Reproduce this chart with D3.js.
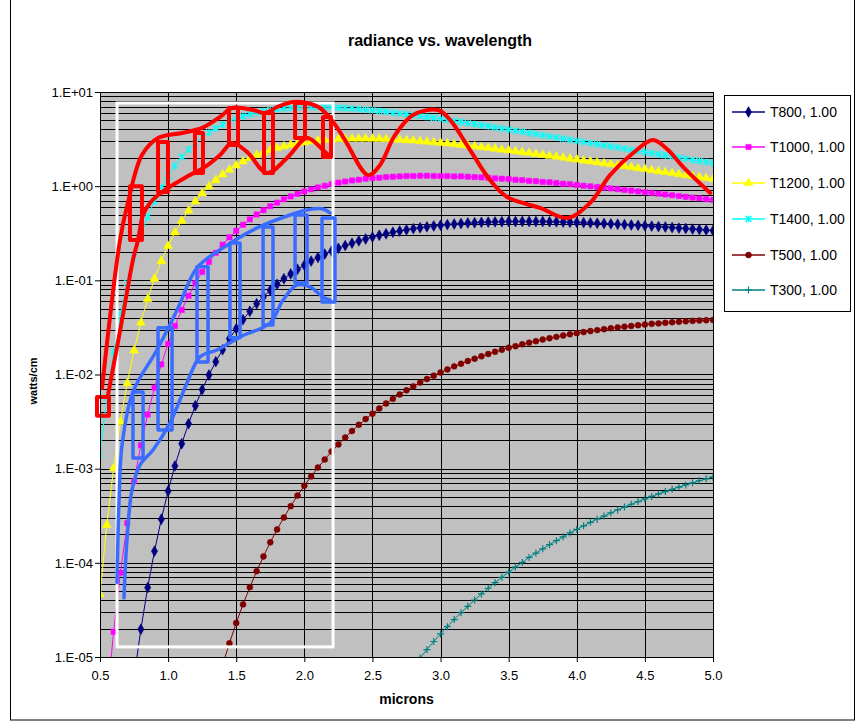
<!DOCTYPE html>
<html>
<head>
<meta charset="utf-8">
<script src="https://cdn.jsdelivr.net/npm/d3@7"></script>
<style>
  body { margin: 0; background: #fff; }
  text { font-family: "Liberation Sans", Arial, sans-serif; }
</style>
</head>
<body>
<svg id="chart" width="857" height="723"></svg>
<script>
// wavelength grid (microns)
const wavelengths = [0.50, 0.55, 0.60, 0.65, 0.70, 0.75, 0.80, 0.85, 0.90, 0.95,
  1.00, 1.05, 1.10, 1.15, 1.20, 1.25, 1.30, 1.35, 1.40, 1.45,
  1.50, 1.55, 1.60, 1.65, 1.70, 1.75, 1.80, 1.85, 1.90, 1.95,
  2.00, 2.05, 2.10, 2.15, 2.20, 2.25, 2.30, 2.35, 2.40, 2.45,
  2.50, 2.55, 2.60, 2.65, 2.70, 2.75, 2.80, 2.85, 2.90, 2.95,
  3.00, 3.05, 3.10, 3.15, 3.20, 3.25, 3.30, 3.35, 3.40, 3.45,
  3.50, 3.55, 3.60, 3.65, 3.70, 3.75, 3.80, 3.85, 3.90, 3.95,
  4.00, 4.05, 4.10, 4.15, 4.20, 4.25, 4.30, 4.35, 4.40, 4.45,
  4.50, 4.55, 4.60, 4.65, 4.70, 4.75, 4.80, 4.85, 4.90, 4.95, 5.00];

// radiance values, each series starts at its own wavelength
const t800 = [6.07e-6, 1.97e-5, 5.46e-5, 1.33e-4, 2.90e-4, 5.79e-4, 1.07e-3, 1.84e-3, 3.00e-3, 4.66e-3,
  6.92e-3, 9.89e-3, 1.37e-2, 1.83e-2, 2.40e-2, 3.06e-2, 3.82e-2, 4.69e-2, 5.65e-2, 6.70e-2,
  7.85e-2, 9.07e-2, 0.104, 0.117, 0.131, 0.145, 0.160, 0.175, 0.190, 0.205,
  0.219, 0.234, 0.248, 0.262, 0.275, 0.288, 0.301, 0.312, 0.324, 0.334,
  0.344, 0.354, 0.362, 0.370, 0.378, 0.385, 0.391, 0.396, 0.401, 0.406,
  0.409, 0.413, 0.415, 0.418, 0.419, 0.421, 0.421, 0.422, 0.422, 0.421,
  0.421, 0.419, 0.418, 0.416, 0.414, 0.412, 0.410, 0.407, 0.404, 0.401,
  0.398, 0.394, 0.391, 0.387, 0.384, 0.380, 0.376, 0.372, 0.368, 0.363,
  0.359, 0.355, 0.350, 0.346, 0.342, 0.337];
const t1000 = [3.24e-6, 1.85e-5, 7.86e-5, 2.64e-4, 7.35e-4, 1.77e-3, 3.76e-3, 7.23e-3, 1.28e-2, 2.11e-2,
  3.28e-2, 4.85e-2, 6.86e-2, 9.33e-2, 0.123, 0.157, 0.196, 0.239, 0.286, 0.336,
  0.389, 0.444, 0.500, 0.556, 0.613, 0.669, 0.724, 0.778, 0.829, 0.879,
  0.926, 0.970, 1.01, 1.05, 1.09, 1.12, 1.15, 1.17, 1.20, 1.22,
  1.23, 1.25, 1.26, 1.27, 1.28, 1.28, 1.29, 1.29, 1.28, 1.28,
  1.28, 1.27, 1.27, 1.26, 1.25, 1.24, 1.23, 1.21, 1.20, 1.19,
  1.17, 1.16, 1.14, 1.13, 1.11, 1.10, 1.08, 1.06, 1.05, 1.03,
  1.01, 0.996, 0.979, 0.962, 0.946, 0.929, 0.912, 0.896, 0.880, 0.864,
  0.848, 0.832, 0.817, 0.801, 0.786, 0.771, 0.756, 0.742, 0.728, 0.714];
const t1200 = [4.61e-5, 2.53e-4, 1.01e-3, 3.14e-3, 8.10e-3, 1.80e-2, 3.54e-2, 6.31e-2, 0.104, 0.160,
  0.232, 0.322, 0.429, 0.551, 0.688, 0.837, 0.995, 1.16, 1.33, 1.50,
  1.66, 1.83, 1.99, 2.14, 2.28, 2.42, 2.54, 2.65, 2.75, 2.84,
  2.92, 2.99, 3.05, 3.09, 3.13, 3.16, 3.18, 3.20, 3.20, 3.20,
  3.19, 3.18, 3.16, 3.14, 3.11, 3.08, 3.05, 3.01, 2.97, 2.93,
  2.88, 2.84, 2.79, 2.74, 2.69, 2.65, 2.60, 2.55, 2.50, 2.44,
  2.40, 2.35, 2.30, 2.25, 2.20, 2.15, 2.10, 2.06, 2.01, 1.96,
  1.92, 1.87, 1.83, 1.79, 1.75, 1.71, 1.67, 1.63, 1.59, 1.55,
  1.52, 1.48, 1.44, 1.41, 1.38, 1.34, 1.31, 1.28, 1.25, 1.22, 1.19];
const t1400 = [1.42e-3, 5.70e-3, 1.75e-2, 4.39e-2, 9.36e-2, 0.177, 0.301, 0.473, 0.696, 0.969,
  1.29, 1.65, 2.04, 2.45, 2.87, 3.30, 3.72, 4.12, 4.51, 4.88,
  5.21, 5.53, 5.80, 6.05, 6.26, 6.44, 6.58, 6.70, 6.79, 6.86,
  6.90, 6.92, 6.92, 6.90, 6.86, 6.81, 6.75, 6.67, 6.58, 6.49,
  6.39, 6.28, 6.17, 6.05, 5.93, 5.81, 5.68, 5.56, 5.43, 5.30,
  5.18, 5.05, 4.93, 4.80, 4.68, 4.56, 4.44, 4.33, 4.21, 4.10,
  3.99, 3.88, 3.78, 3.68, 3.58, 3.48, 3.38, 3.29, 3.20, 3.11,
  3.03, 2.95, 2.87, 2.79, 2.71, 2.64, 2.57, 2.50, 2.43, 2.36,
  2.30, 2.24, 2.18, 2.12, 2.06, 2.01, 1.96, 1.90, 1.85, 1.81, 1.76];
const t500 = [4.61e-6, 8.24e-6, 1.40e-5, 2.30e-5, 3.62e-5, 5.52e-5, 8.16e-5, 1.17e-4, 1.65e-4, 2.26e-4,
  3.03e-4, 4.00e-4, 5.18e-4, 6.60e-4, 8.28e-4, 1.03e-3, 1.25e-3, 1.52e-3, 1.81e-3, 2.14e-3,
  2.51e-3, 2.92e-3, 3.36e-3, 3.84e-3, 4.36e-3, 4.92e-3, 5.51e-3, 6.14e-3, 6.79e-3, 7.48e-3,
  8.20e-3, 8.95e-3, 9.72e-3, 1.05e-2, 1.13e-2, 1.22e-2, 1.30e-2, 1.39e-2, 1.47e-2, 1.56e-2,
  1.65e-2, 1.74e-2, 1.83e-2, 1.92e-2, 2.00e-2, 2.09e-2, 2.18e-2, 2.26e-2, 2.35e-2, 2.43e-2,
  2.51e-2, 2.59e-2, 2.67e-2, 2.75e-2, 2.82e-2, 2.89e-2, 2.96e-2, 3.03e-2, 3.10e-2, 3.16e-2,
  3.22e-2, 3.28e-2, 3.34e-2, 3.39e-2, 3.45e-2, 3.49e-2, 3.54e-2, 3.59e-2, 3.63e-2, 3.67e-2,
  3.71e-2, 3.74e-2, 3.77e-2, 3.80e-2];
const t300 = [7.91e-6, 9.78e-6, 1.20e-5, 1.46e-5, 1.76e-5, 2.10e-5, 2.50e-5, 2.95e-5, 3.45e-5, 4.03e-5,
  4.67e-5, 5.37e-5, 6.16e-5, 7.02e-5, 7.98e-5, 9.01e-5, 1.01e-4, 1.14e-4, 1.27e-4, 1.41e-4,
  1.56e-4, 1.72e-4, 1.89e-4, 2.08e-4, 2.27e-4, 2.47e-4, 2.69e-4, 2.91e-4, 3.14e-4, 3.39e-4,
  3.65e-4, 3.91e-4, 4.19e-4, 4.47e-4, 4.77e-4, 5.07e-4, 5.39e-4, 5.71e-4, 6.04e-4, 6.38e-4,
  6.72e-4, 7.08e-4, 7.44e-4, 7.80e-4, 8.17e-4];

// hand drawn overlays: [micron, value] points, boxes are [x0, x1, top, bottom]
const redTop = [[0.515, 7.2e-3], [0.647, 0.268], [0.706, 0.68], [0.808, 2.14], [0.926, 3.25],
  [1.102, 3.67], [1.249, 4.15], [1.381, 5.43], [1.469, 6.76], [1.623, 6.44], [1.711, 5.98],
  [1.800, 6.93], [1.917, 7.83], [2.020, 7.64], [2.115, 6.76], [2.211, 4.81], [2.299, 3.09],
  [2.468, 1.31], [2.556, 1.68], [2.666, 3.50], [2.798, 5.70], [2.982, 6.44], [3.070, 5.05],
  [3.217, 2.42], [3.363, 1.16], [3.488, 0.767], [3.731, 0.587], [3.929, 0.459], [4.098, 0.664],
  [4.244, 1.31], [4.413, 2.25], [4.560, 3.09], [4.670, 2.42], [4.780, 1.60], [4.979, 0.847]];
const redBottom = [[0.559, 6.07e-3], [0.662, 3.80e-2], [0.742, 0.165], [0.779, 0.268], [0.816, 0.494],
  [0.867, 0.664], [0.955, 0.867], [1.146, 1.28], [1.271, 1.60], [1.381, 2.14], [1.469, 2.87],
  [1.579, 2.31], [1.726, 1.38], [1.873, 1.99], [2.020, 3.25], [2.137, 2.42], [2.189, 2.04]];
const redBoxes = [[0.478, 0.566, 5.78e-3, 3.64e-3], [0.720, 0.808, 1.00, 0.268], [0.926, 0.999, 2.94, 0.867],
  [1.197, 1.256, 3.67, 1.38], [1.447, 1.513, 6.76, 2.73], [1.704, 1.770, 5.98, 1.38],
  [1.932, 2.005, 7.64, 3.25], [2.137, 2.196, 5.43, 2.04]];
const blueTop = [[0.625, 6.14e-5], [0.640, 4.67e-4], [0.662, 1.79e-3], [0.742, 6.53e-3], [0.918, 1.82e-2],
  [1.073, 5.09e-2], [1.212, 0.136], [1.403, 0.221], [1.653, 0.360], [1.895, 0.494], [2.020, 0.559],
  [2.137, 0.573], [2.189, 0.519]];
const blueBottom = [[0.676, 4.25e-5], [0.698, 1.75e-4], [0.735, 5.96e-4], [0.794, 1.10e-3], [0.889, 1.58e-3],
  [1.014, 3.06e-3], [1.139, 8.15e-3], [1.234, 1.54e-2], [1.359, 1.82e-2], [1.528, 2.51e-2],
  [1.748, 3.53e-2], [1.844, 6.19e-2], [1.946, 8.93e-2], [2.042, 8.51e-2], [2.137, 6.67e-2], [2.189, 6.19e-2]];
const blueBoxes = [[0.742, 0.816, 6.53e-3, 1.30e-3], [0.926, 1.029, 3.13e-2, 2.58e-3], [1.212, 1.293, 0.139, 1.36e-2],
  [1.454, 1.528, 0.249, 2.45e-2], [1.697, 1.770, 0.369, 3.36e-2], [1.932, 2.020, 0.494, 9.38e-2],
  [2.130, 2.225, 0.459, 5.90e-2]];
const whiteBox = [0.625, 2.211, 7.64, 1.28e-5];

// axes
const xTicks = [0.5, 1.0, 1.5, 2.0, 2.5, 3.0, 3.5, 4.0, 4.5, 5.0];
const yTicks = [1e-5, 1e-4, 1e-3, 1e-2, 1e-1, 1, 10];
const yTickLabels = ["1.E-05", "1.E-04", "1.E-03", "1.E-02", "1.E-01", "1.E+00", "1.E+01"];

const series = [
  { name: "T800, 1.00", values: t800, start: 0.75, color: "#000080", marker: "diamond" },
  { name: "T1000, 1.00", values: t1000, start: 0.55, color: "#ff00ff", marker: "square" },
  { name: "T1200, 1.00", values: t1200, start: 0.50, color: "#ffff00", marker: "triangle" },
  { name: "T1400, 1.00", values: t1400, start: 0.50, color: "#00ffff", marker: "star" },
  { name: "T500, 1.00", values: t500, start: 1.35, color: "#800000", marker: "circle" },
  { name: "T300, 1.00", values: t300, start: 2.80, color: "#008080", marker: "plus" }
];

const svg = d3.select("#chart");
const plot = { left: 100, right: 713, top: 92, bottom: 657 };

const x = d3.scaleLinear().domain([0.5, 5.0]).range([plot.left, plot.right]);
const y = d3.scaleLog().domain([1e-5, 10]).range([plot.bottom, plot.top]);

// chart area border
svg.append("rect")
    .attr("x", 10.5).attr("y", -1).attr("width", 844).attr("height", 721)
    .attr("fill", "#fff").attr("stroke", "#000").attr("stroke-width", 1);

// plot background
svg.append("rect")
    .attr("x", plot.left).attr("y", plot.top)
    .attr("width", plot.right - plot.left).attr("height", plot.bottom - plot.top)
    .attr("fill", "#c0c0c0");

// gridlines, major and minor on the log axis
const grid = svg.append("g").attr("stroke", "#000").attr("stroke-width", 1);
const gridValues = [];
for (let e = -5; e < 1; e++) {
    for (let m = 1; m < 10; m++) gridValues.push(m * Math.pow(10, e));
}
gridValues.push(10);
gridValues.forEach(function (v) {
    const yy = Math.round(y(v)) + 0.5;
    grid.append("line").attr("x1", plot.left).attr("x2", plot.right).attr("y1", yy).attr("y2", yy);
});
xTicks.forEach(function (t) {
    const xx = Math.round(x(t)) + 0.5;
    grid.append("line").attr("x1", xx).attr("x2", xx).attr("y1", plot.top).attr("y2", plot.bottom);
});

svg.append("clipPath").attr("id", "plotClip")
  .append("rect")
    .attr("x", plot.left).attr("y", plot.top)
    .attr("width", plot.right - plot.left).attr("height", plot.bottom - plot.top);

// marker shapes
function markerPath(type) {
    if (type === "diamond") return d3.symbol(d3.symbolDiamond, 34)();
    if (type === "square") return d3.symbol(d3.symbolSquare, 28)();
    if (type === "triangle") return d3.symbol(d3.symbolTriangle, 34)();
    if (type === "circle") return d3.symbol(d3.symbolCircle, 28)();
    if (type === "star") return "M-3,-3L3,3M-3,3L3,-3M0,-3.5L0,3.5";
    return "M-3.5,0L3.5,0M0,-3.5L0,3.5";
}
function strokeOnly(type) { return type === "star" || type === "plus"; }

const line = d3.line()
    .x(function (d) { return x(d[0]); })
    .y(function (d) { return y(d[1]); });

const seriesLayer = svg.append("g").attr("clip-path", "url(#plotClip)");
series.forEach(function (s) {
    const i0 = wavelengths.findIndex(function (w) { return Math.abs(w - s.start) < 1e-9; });
    const pts = s.values.map(function (v, i) { return [wavelengths[i0 + i], v]; });
    const g = seriesLayer.append("g");
    g.append("path")
        .attr("d", line(pts))
        .attr("fill", "none")
        .attr("stroke", s.color)
        .attr("stroke-width", 1);
    g.selectAll("path.mk").data(pts).enter()
        .append("path")
        .attr("class", "mk")
        .attr("transform", function (d) { return "translate(" + x(d[0]) + "," + y(d[1]) + ")"; })
        .attr("d", markerPath(s.marker))
        .attr("fill", strokeOnly(s.marker) ? "none" : s.color)
        .attr("stroke", s.color)
        .attr("stroke-width", strokeOnly(s.marker) ? 1.2 : 0.5);
});

// white frame
svg.append("rect")
    .attr("x", x(whiteBox[0])).attr("y", y(whiteBox[2]))
    .attr("width", x(whiteBox[1]) - x(whiteBox[0]))
    .attr("height", y(whiteBox[3]) - y(whiteBox[2]))
    .attr("fill", "none").attr("stroke", "#fff").attr("stroke-width", 3);

// red and blue sketch overlays
const smooth = d3.line()
    .x(function (d) { return x(d[0]); })
    .y(function (d) { return y(d[1]); })
    .curve(d3.curveCatmullRom.alpha(0.5));

function drawBand(top, bottom, boxes, color, width) {
    const g = svg.append("g")
        .attr("fill", "none").attr("stroke", color).attr("stroke-width", width)
        .attr("stroke-linejoin", "round").attr("stroke-linecap", "round");
    g.append("path").attr("d", smooth(top));
    g.append("path").attr("d", smooth(bottom));
    boxes.forEach(function (b) {
        g.append("rect")
            .attr("x", x(b[0])).attr("y", y(b[2]))
            .attr("width", x(b[1]) - x(b[0]))
            .attr("height", y(b[3]) - y(b[2]));
    });
}
drawBand(redTop, redBottom, redBoxes, "#ff0000", 4);
drawBand(blueTop, blueBottom, blueBoxes, "#3a6cff", 3.5);

// axes
const yAxis = svg.append("g")
    .attr("transform", "translate(" + plot.left + ",0)")
    .call(d3.axisLeft(y).tickValues(yTicks)
        .tickFormat(function (d, i) { return yTickLabels[i]; })
        .tickSize(5).tickSizeOuter(0).tickPadding(2));
const xAxis = svg.append("g")
    .attr("transform", "translate(0," + plot.bottom + ")")
    .call(d3.axisBottom(x).tickValues(xTicks)
        .tickFormat(d3.format(".1f"))
        .tickSize(5).tickSizeOuter(0).tickPadding(9));
[yAxis, xAxis].forEach(function (a) {
    a.select(".domain").attr("stroke", "#000");
    a.selectAll(".tick line").attr("stroke", "#000");
    a.selectAll(".tick text")
        .attr("fill", "#000")
        .style("font-family", "'Liberation Sans', Arial, sans-serif")
        .style("font-size", "13px");
});

// titles
svg.append("text")
    .attr("x", 440).attr("y", 46)
    .attr("text-anchor", "middle")
    .style("font-size", "16px").style("font-weight", "bold")
    .text("radiance vs. wavelength");
svg.append("text")
    .attr("x", (plot.left + plot.right) / 2).attr("y", 704)
    .attr("text-anchor", "middle")
    .style("font-size", "14px").style("font-weight", "bold")
    .text("microns");
svg.append("text")
    .attr("transform", "translate(37,381) rotate(-90)")
    .attr("text-anchor", "middle")
    .style("font-size", "11px").style("font-weight", "bold")
    .text("watts/cm");

// legend
const legend = svg.append("g");
legend.append("rect")
    .attr("x", 724.5).attr("y", 95.5).attr("width", 126).attr("height", 216)
    .attr("fill", "#fff").attr("stroke", "#000").attr("stroke-width", 1);
const legendY = [112, 147, 183, 219, 255, 290];
series.forEach(function (s, i) {
    const ly = legendY[i];
    legend.append("line")
        .attr("x1", 732).attr("x2", 765).attr("y1", ly).attr("y2", ly)
        .attr("stroke", s.color).attr("stroke-width", 1.5);
    legend.append("path")
        .attr("transform", "translate(748.5," + ly + ")")
        .attr("d", markerPath(s.marker))
        .attr("fill", strokeOnly(s.marker) ? "none" : s.color)
        .attr("stroke", s.color)
        .attr("stroke-width", strokeOnly(s.marker) ? 1.2 : 0.5);
    legend.append("text")
        .attr("x", 770).attr("y", ly + 5)
        .style("font-size", "14px")
        .text(s.name);
});
</script>
</body>
</html>
